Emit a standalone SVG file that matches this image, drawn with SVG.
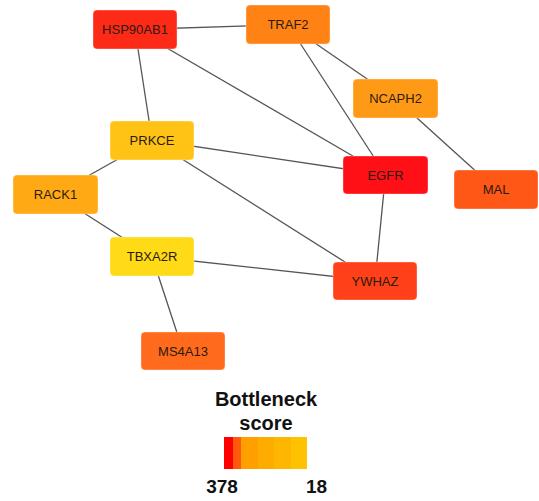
<svg xmlns="http://www.w3.org/2000/svg" width="539" height="501" viewBox="0 0 539 501">
<style>
.e{stroke:#555;stroke-width:1.3;fill:none}
.n rect{stroke-width:1;stroke-opacity:0.35;stroke:#fff}
.n text{font-family:"Liberation Sans",Arial,sans-serif;font-size:13px;fill:#2a1a10;text-anchor:middle;dominant-baseline:central}
.lg{font-family:"Liberation Sans",Arial,sans-serif;font-weight:bold;fill:#111;text-anchor:middle}
.bar rect{shape-rendering:crispEdges}
</style>
<rect width="539" height="501" fill="#fff"/>
<g id="edges">
<line class="e" x1="135" y1="29.5" x2="288" y2="24.5"/>
<line class="e" x1="135" y1="29.5" x2="152" y2="140"/>
<line class="e" x1="135" y1="29.5" x2="385.5" y2="175"/>
<line class="e" x1="288" y1="24.5" x2="385.5" y2="175"/>
<line class="e" x1="288" y1="24.5" x2="395.5" y2="98.5"/>
<line class="e" x1="395.5" y1="98.5" x2="496" y2="189.5"/>
<line class="e" x1="152" y1="140" x2="385.5" y2="175"/>
<line class="e" x1="152" y1="140" x2="375" y2="281"/>
<line class="e" x1="152" y1="140" x2="55" y2="194.5"/>
<line class="e" x1="55" y1="194.5" x2="152" y2="256.5"/>
<line class="e" x1="152" y1="256.5" x2="375" y2="281"/>
<line class="e" x1="152" y1="256.5" x2="183" y2="351"/>
<line class="e" x1="385.5" y1="175" x2="375" y2="281"/>
</g>
<g id="HSP90AB1" class="n"><rect x="93" y="10" width="84" height="39" rx="4" fill="#fe2a18"/><text x="135" y="29.5">HSP90AB1</text></g>
<g id="TRAF2" class="n"><rect x="246" y="5" width="84" height="39" rx="4" fill="#ff8214"/><text x="288" y="24.5">TRAF2</text></g>
<g id="NCAPH2" class="n"><rect x="353" y="79" width="85" height="39" rx="4" fill="#ff9a16"/><text x="395.5" y="98.5">NCAPH2</text></g>
<g id="PRKCE" class="n"><rect x="110" y="121" width="84" height="39" rx="4" fill="#ffc316"/><text x="152" y="140.5">PRKCE</text></g>
<g id="EGFR" class="n"><rect x="343" y="156" width="85" height="38" rx="4" fill="#ff1016"/><text x="385.5" y="175">EGFR</text></g>
<g id="MAL" class="n"><rect x="454" y="170" width="84" height="39" rx="4" fill="#ff5716"/><text x="496" y="189.5">MAL</text></g>
<g id="RACK1" class="n"><rect x="13" y="175" width="85" height="39" rx="4" fill="#ffaa14"/><text x="55.5" y="194.5">RACK1</text></g>
<g id="TBXA2R" class="n"><rect x="110" y="237" width="84" height="39" rx="4" fill="#ffda16"/><text x="152" y="256.5">TBXA2R</text></g>
<g id="YWHAZ" class="n"><rect x="333" y="262" width="84" height="38" rx="4" fill="#ff4018"/><text x="375" y="281">YWHAZ</text></g>
<g id="MS4A13" class="n"><rect x="141" y="332" width="84" height="38" rx="4" fill="#ff6a1c"/><text x="183" y="351">MS4A13</text></g>
<g id="legend">
<text class="lg" x="266" y="406" font-size="20">Bottleneck</text>
<text class="lg" x="266" y="430" font-size="20">score</text>
<g class="bar">
<rect x="224" y="437" width="9" height="32" fill="#ff0000"/>
<rect x="233" y="437" width="8" height="32" fill="#ff5a0c"/>
<rect x="241" y="437" width="17" height="32" fill="#ffa000"/>
<rect x="258" y="437" width="16" height="32" fill="#ffac00"/>
<rect x="274" y="437" width="17" height="32" fill="#ffb600"/>
<rect x="291" y="437" width="16" height="32" fill="#ffc200"/>
</g>
<text class="lg" x="222" y="493" font-size="19">378</text>
<text class="lg" x="316.5" y="493" font-size="19">18</text>
</g>
</svg>
